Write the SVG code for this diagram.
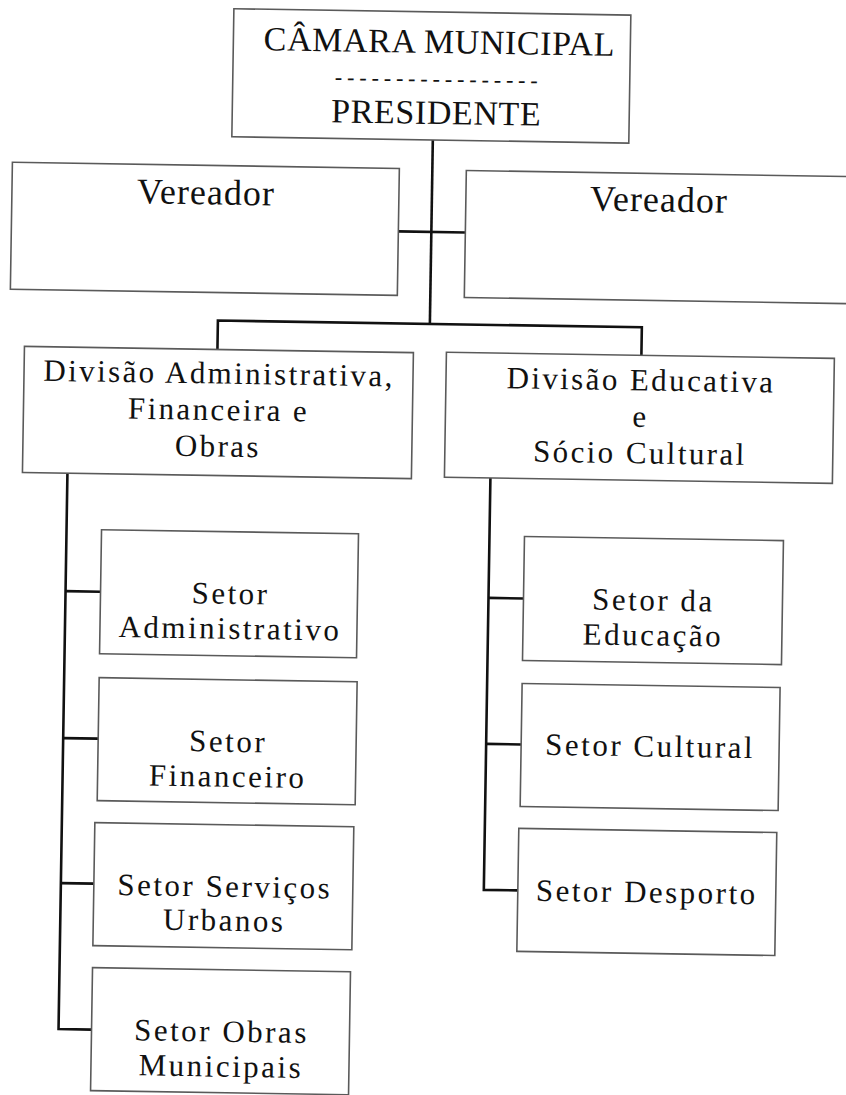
<svg xmlns="http://www.w3.org/2000/svg" width="846" height="1095" viewBox="0 0 846 1095">
<style>
.box{fill:#ffffff;stroke:#5a5a5a;stroke-width:1.6}
.ln{fill:none;stroke:#111;stroke-width:2.6}
text{font-family:"Liberation Serif","Times New Roman",serif;fill:#111;text-anchor:middle}
.t1{font-size:34px;letter-spacing:0.6px}
.dash{font-size:22px;letter-spacing:4.9px}
.t2{font-size:36px;letter-spacing:1px}
.t3{font-size:31px;letter-spacing:2.4px}
.t4{font-size:31px;letter-spacing:2.5px}
</style>
<rect width="846" height="1095" fill="#ffffff"/>
<g transform="rotate(0.917)">
<g id="connectors">
<path class="ln" d="M435 133 V317"/>
<path class="ln" d="M402 225 H469"/>
<path class="ln" d="M223 346 V317 H647 V345"/>
<path class="ln" d="M75 472 V1028 H108"/>
<path class="ln" d="M75 590 H110 M75 737 H110 M75 882 H108"/>
<path class="ln" d="M498 470 V882 H532"/>
<path class="ln" d="M498 590 H533 M498 736 H533"/>
</g>
<g id="camara">
<rect class="box" x="234" y="5" width="397" height="128"/>
<text class="t1" x="440" y="46">CÂMARA MUNICIPAL</text>
<text class="dash" x="440" y="79">-----------------</text>
<text class="t1" x="438" y="117">PRESIDENTE</text>
</g>
<g id="vereador1">
<rect class="box" x="15" y="162" width="387" height="127"/>
<text class="t2" x="209" y="201">Vereador</text>
</g>
<g id="vereador2">
<rect class="box" x="469" y="163" width="440" height="127"/>
<text class="t2" x="662" y="201">Vereador</text>
</g>
<g id="div-adm">
<rect class="box" x="30" y="346" width="389" height="126"/>
<text class="t3" x="225" y="380">Divisão Administrativa,</text>
<text class="t3" x="225" y="416.5">Financeira e</text>
<text class="t3" x="225" y="453">Obras</text>
</g>
<g id="div-edu">
<rect class="box" x="452" y="345" width="388" height="125"/>
<text class="t3" x="647" y="380">Divisão Educativa</text>
<text class="t3" x="647" y="416.5">e</text>
<text class="t3" x="647" y="453">Sócio Cultural</text>
</g>
<g id="setor-adm">
<rect class="box" x="110" y="528" width="257" height="124"/>
<text class="t4" x="240" y="600">Setor</text>
<text class="t4" x="240" y="635">Administrativo</text>
</g>
<g id="setor-fin">
<rect class="box" x="110" y="676" width="258" height="123"/>
<text class="t4" x="240" y="748">Setor</text>
<text class="t4" x="240" y="783">Financeiro</text>
</g>
<g id="setor-serv">
<rect class="box" x="108" y="821" width="259" height="123"/>
<text class="t4" x="239" y="893">Setor Serviços</text>
<text class="t4" x="239" y="927">Urbanos</text>
</g>
<g id="setor-obras">
<rect class="box" x="108" y="966" width="258" height="123"/>
<text class="t4" x="238" y="1038">Setor Obras</text>
<text class="t4" x="238" y="1073">Municipais</text>
</g>
<g id="setor-edu">
<rect class="box" x="533" y="528" width="259" height="124"/>
<text class="t4" x="663" y="600">Setor da</text>
<text class="t4" x="663" y="635">Educação</text>
</g>
<g id="setor-cult">
<rect class="box" x="533" y="675" width="258" height="123"/>
<text class="t4" x="662" y="746">Setor Cultural</text>
</g>
<g id="setor-desp">
<rect class="box" x="532" y="820" width="258" height="123"/>
<text class="t4" x="661" y="892">Setor Desporto</text>
</g>
</g>
</svg>
